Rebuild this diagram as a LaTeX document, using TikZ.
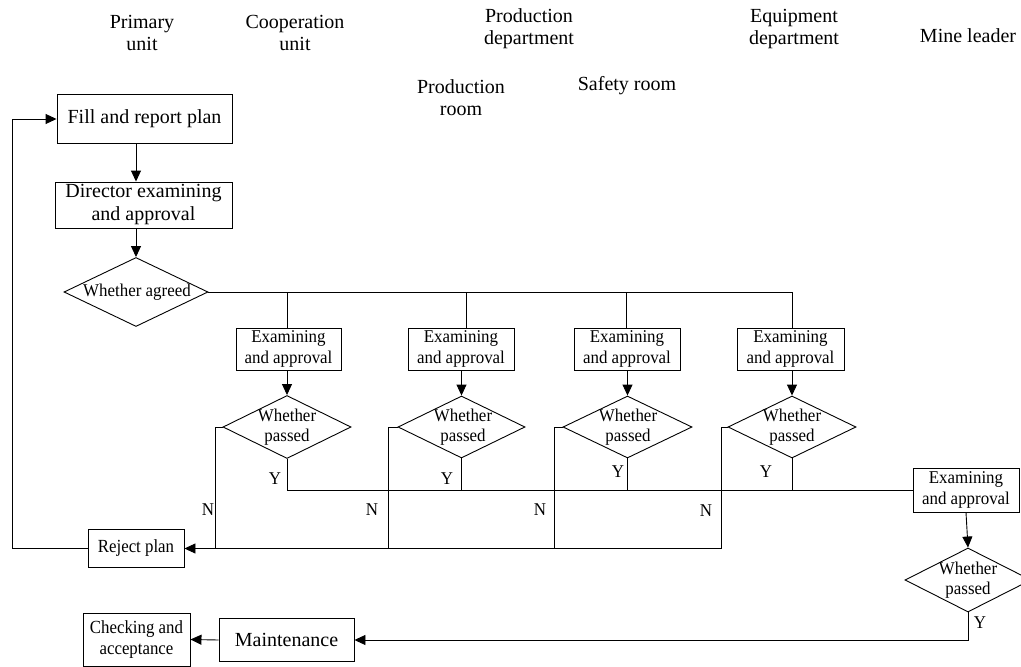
\documentclass[tikz,border=0pt]{standalone}
\usepackage{fontspec}
\setmainfont{Liberation Serif}
\newfontfamily\condf[FakeStretch=0.94]{Liberation Serif}
\newfontfamily\condg[FakeStretch=0.91]{Liberation Serif}
\usetikzlibrary{arrows.meta,shapes.geometric}
\newcommand{\bigf}{\fontsize{20}{23}\selectfont}
\newcommand{\hdrf}{\fontsize{20}{22}\selectfont}
\newcommand{\smf}{\condf\fontsize{18}{21}\selectfont}
\newcommand{\smg}{\condg\fontsize{18.5}{21}\selectfont}
\newcommand{\dmf}{\condf\fontsize{18}{20}\selectfont}
\tikzset{
  ln/.style={line width=0.9pt, draw=black},
  arr/.style={ln, -{Triangle[length=11pt,width=10pt]}},
  bigbox/.style={ln, draw, rectangle, inner sep=0pt, align=center, font=\bigf},
  smbox/.style={ln, draw, rectangle, inner sep=0pt, align=center, font=\smf},
  dia/.style={ln, draw, diamond, inner sep=0pt},
  diatext/.style={inner sep=0pt, align=center, font=\dmf},
  hdr/.style={inner sep=0pt, align=center, font=\hdrf},
  yn/.style={inner sep=0pt, font=\smf},
}
\begin{document}
\begin{tikzpicture}[x=1pt,y=-1pt]
\useasboundingbox (0,0) rectangle (1021,667);
% headers
\node[hdr] (h1) at (142,33) {Primary\\unit};
\node[hdr] (h2) at (295,33) {Cooperation\\unit};
\node[hdr] (h3) at (529,29) {Production\\department};
\node[hdr] (h4) at (794,29) {Equipment\\department};
\node[hdr] (h5) at (968,36) {Mine leader};
\node[hdr] (h6) at (461,98) {Production\\room};
\node[hdr] (h7) at (627,86) {Safety room};
% left column
\node[bigbox, minimum width=175pt, minimum height=49pt] (fill) at (144.5,119) {Fill and report plan};
\node[bigbox, minimum width=177pt, minimum height=46pt] (dir) at (143.5,205) {Director examining\\and approval};
\node[dia, minimum width=144pt, minimum height=69pt] (agr) at (136,292) {};
\node[diatext] (agrt) at (137,292) {Whether agreed};
\draw[arr] (fill.south -| agr.north) -- (agr.north |- dir.north);
\draw[arr] (dir.south -| agr.north) -- (agr.north);
% examining boxes
\node[smbox, minimum width=105pt, minimum height=42pt] (e1) at (288.5,349) {Examining\\and approval};
\node[smbox, minimum width=106pt, minimum height=42pt] (e2) at (461,349) {Examining\\and approval};
\node[smbox, minimum width=106pt, minimum height=42pt] (e3) at (627,349) {Examining\\and approval};
\node[smbox, minimum width=107pt, minimum height=42pt] (e4) at (790.5,349) {Examining\\and approval};
% diamonds
\node[dia, minimum width=128pt, minimum height=63pt] (d1) at (287,427) {};
\node[dia, minimum width=127pt, minimum height=62pt] (d2) at (461.5,427) {};
\node[dia, minimum width=129pt, minimum height=62pt] (d3) at (627.5,427) {};
\node[dia, minimum width=128pt, minimum height=62pt] (d4) at (792,427) {};
\node[diatext] (d1t) at (287,427) {Whether\\passed};
\node[diatext] (d2t) at (463,427) {Whether\\passed};
\node[diatext] (d3t) at (628,427) {Whether\\passed};
\node[diatext] (d4t) at (792,427) {Whether\\passed};
% top distribution line
\draw[ln] (agr.east) -| (e4.north -| d4.north);
\coordinate (b1) at (287,292);
\coordinate (b2) at (466,292);
\coordinate (b3) at (626,292);
\draw[ln] (b1) -- (b1 |- e1.north);
\draw[ln] (b2) -- (b2 |- e2.north);
\draw[ln] (b3) -- (b3 |- e3.north);
% exam -> diamond
\draw[arr] (e1.south -| d1.north) -- (d1.north);
\draw[arr] (e2.south -| d2.north) -- (d2.north);
\draw[arr] (e3.south -| d3.north) -- (d3.north);
\draw[arr] (e4.south -| d4.north) -- (d4.north);
% right column
\node[smbox, minimum width=106pt, minimum height=44pt] (fe) at (966,490) {Examining\\and approval};
\node[dia, minimum width=126pt, minimum height=64pt] (fd) at (968,580) {};
\node[diatext] (fdt) at (968,580) {Whether\\passed};
\draw[arr] (fe.south) -- (fd.north);
% Y line
\draw[ln] (d1.south) |- (fe.west);
\draw[ln] (d2.south) -- (d2.south |- fe.west);
\draw[ln] (d3.south) -- (d3.south |- fe.west);
\draw[ln] (d4.south) -- (d4.south |- fe.west);
\node[yn] (y1) at (275,479) {Y};
\node[yn] (y2) at (447,479) {Y};
\node[yn] (y3) at (618,472) {Y};
\node[yn] (y4) at (766,472) {Y};
% reject plan
\node[smbox, font=\smg, minimum width=96pt, minimum height=38pt] (rej) at (136,548.5) {Reject plan};
\draw[arr] (d4.west) -- ++(-6,0) coordinate (n4) |- (rej.east);
\draw[ln] (d1.west) -- ++(-7,0) coordinate (n1) -- (n1 |- rej.east);
\draw[ln] (d2.west) -- ++(-9,0) coordinate (n2) -- (n2 |- rej.east);
\draw[ln] (d3.west) -- ++(-8,0) coordinate (n3) -- (n3 |- rej.east);
\node[yn] (nl1) at (208,510) {N};
\node[yn] (nl2) at (372,510) {N};
\node[yn] (nl3) at (540,510) {N};
\node[yn] (nl4) at (706,511) {N};
\draw[arr] (rej.west) -- (12,548.5) |- (fill.west);
% bottom row
\node[bigbox, minimum width=135pt, minimum height=43pt] (mnt) at (286.5,640) {Maintenance};
\node[smbox, font=\smg, minimum width=107pt, minimum height=53pt] (chk) at (136.5,639.5) {Checking and\\acceptance};
\draw[arr] (fd.south) |- (mnt.east);
\draw[arr] (mnt.west) -- (chk.east);
\node[yn] (y5) at (980,623) {Y};
\end{tikzpicture}
\end{document}
